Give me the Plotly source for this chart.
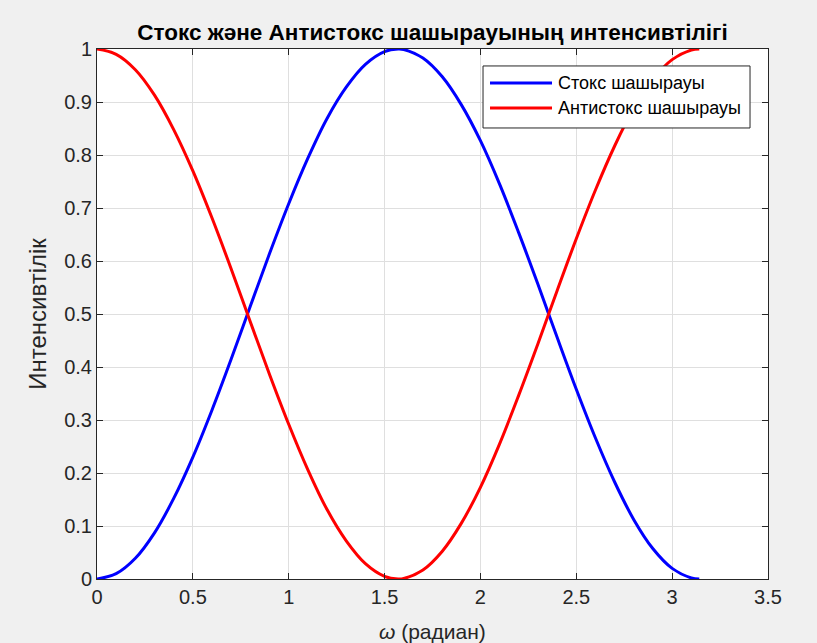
import plotly.graph_objects as go

# Angular frequency samples (radians)
omega = [0.0, 0.1, 0.2, 0.3, 0.4, 0.5, 0.6, 0.7, 0.8, 0.9, 1.0, 1.1, 1.2, 1.3,
         1.4, 1.5, 1.5708, 1.6, 1.7, 1.8, 1.9, 2.0, 2.1, 2.2, 2.3, 2.4, 2.5,
         2.6, 2.7, 2.8, 2.9, 3.0, 3.1, 3.1416]

# Stokes scattering intensity
stokes = [0.0, 0.010, 0.039, 0.087, 0.152, 0.230, 0.319, 0.415, 0.515, 0.614,
          0.708, 0.794, 0.869, 0.928, 0.971, 0.995, 1.0, 0.999, 0.983, 0.948,
          0.895, 0.827, 0.745, 0.653, 0.556, 0.456, 0.358, 0.266, 0.183, 0.112,
          0.057, 0.020, 0.002, 0.0]

# Anti-Stokes scattering intensity
antistokes = [1.0, 0.990, 0.961, 0.913, 0.848, 0.770, 0.681, 0.585, 0.485,
              0.386, 0.292, 0.206, 0.131, 0.072, 0.029, 0.005, 0.0, 0.001,
              0.017, 0.052, 0.105, 0.173, 0.255, 0.347, 0.444, 0.544, 0.642,
              0.734, 0.817, 0.888, 0.943, 0.980, 0.998, 1.0]

x_ticks = [0, 0.5, 1, 1.5, 2, 2.5, 3, 3.5]
y_ticks = [0, 0.1, 0.2, 0.3, 0.4, 0.5, 0.6, 0.7, 0.8, 0.9, 1]

series_names = ["Стокс шашырауы", "Антистокс шашырауы"]
series_colors = ["#0000ff", "#ff0000"]

FONT = "Liberation Sans, Arial, sans-serif"
AXIS_COLOR = "#262626"

fig = go.Figure()
for ys, name, color in zip([stokes, antistokes], series_names, series_colors):
    fig.add_trace(go.Scatter(x=omega, y=ys, mode="lines", name=name,
                             line=dict(color=color, width=3, shape="spline")))

axis_common = dict(
    showline=True, linecolor=AXIS_COLOR, linewidth=1, mirror="allticks",
    ticks="inside", ticklen=6, tickcolor=AXIS_COLOR,
    showgrid=True, gridcolor="#dfdfdf", gridwidth=1, zeroline=False,
    tickfont=dict(family=FONT, size=20, color=AXIS_COLOR),
    automargin=False,
)

fig.update_xaxes(range=[0, 3.5], tickvals=x_ticks,
                 ticktext=[f"{v:g}" for v in x_ticks],
                 **axis_common)
fig.update_yaxes(range=[0, 1], tickvals=y_ticks,
                 ticktext=[f"{v:g}" for v in y_ticks],
                 title=dict(text="Интенсивтілік", standoff=10,
                            font=dict(family=FONT, size=24, color=AXIS_COLOR)),
                 **axis_common)

# Legend box drawn in paper coordinates inside the upper-right of the axes
box = dict(x0=0.5753, x1=0.9732, y0=0.851, y1=0.968)
row_y = [0.9358, 0.8887]
sample_x = (0.5857, 0.6781)
text_x = 0.684

shapes = [dict(type="rect", xref="paper", yref="paper", layer="above",
               fillcolor="#ffffff", line=dict(color=AXIS_COLOR, width=1), **box)]
annotations = []
for yy, name, color in zip(row_y, series_names, series_colors):
    shapes.append(dict(type="line", xref="paper", yref="paper", layer="above",
                       x0=sample_x[0], x1=sample_x[1], y0=yy, y1=yy,
                       line=dict(color=color, width=3)))
    annotations.append(dict(xref="paper", yref="paper", x=text_x, y=yy,
                            xanchor="left", yanchor="middle", showarrow=False,
                            text=name,
                            font=dict(family=FONT, size=18, color="#000000")))

# x-axis title placed below the tick labels
annotations.append(dict(xref="paper", yref="paper", x=0.5, y=0, yshift=-52,
                        xanchor="center", yanchor="middle", showarrow=False,
                        text="<i>ω</i> (радиан)",
                        font=dict(family=FONT, size=21, color=AXIS_COLOR)))

fig.update_layout(
    width=817, height=643,
    margin=dict(l=97, r=49, t=49, b=64),
    paper_bgcolor="#f0f0f0", plot_bgcolor="#ffffff",
    title=dict(text="<b>Стокс және Антистокс шашырауының интенсивтілігі</b>",
               x=0.5, xref="paper", xanchor="center",
               y=1 - 32 / 643, yanchor="middle",
               font=dict(family=FONT, size=22.5, color="#000000")),
    showlegend=False,
    shapes=shapes,
    annotations=annotations,
)

fig.write_html("out.html")
